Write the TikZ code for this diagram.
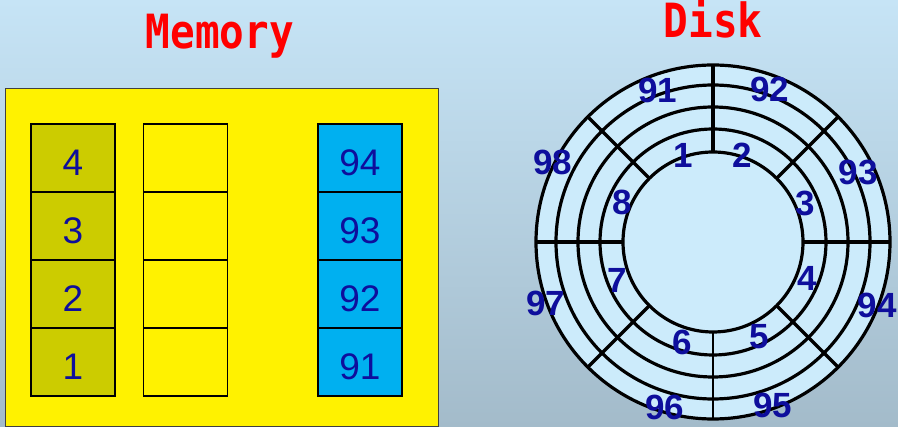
\documentclass[tikz,border=0pt]{standalone}
\usepackage{fontspec}
\setmainfont{Liberation Sans}
\newfontfamily\titlefont{DejaVu Sans Mono}
\usetikzlibrary{positioning,calc}
\definecolor{bgtop}{HTML}{C6E4F6}
\definecolor{bgbot}{HTML}{A3BBCA}
\definecolor{olive}{HTML}{CCCC00}
\definecolor{sky}{HTML}{00B0F0}
\definecolor{platter}{HTML}{CCEBFB}
\definecolor{digit}{HTML}{0E0E9C}
\definecolor{frame}{HTML}{404040}

\begin{document}
\begin{tikzpicture}[x=1pt,y=-1pt,
cell/.style={draw=black,line width=1.1pt,minimum width=84pt,minimum height=68pt,inner sep=0pt,outer sep=0pt,text height=35pt,text depth=0pt,font=\fontsize{37}{37}\selectfont,text=digit},
oldcell/.style={cell,fill=olive},
freecell/.style={cell,fill=yellow},
newcell/.style={cell,fill=sky},
title/.style={text=red,inner sep=0pt,anchor=base,font=\titlefont\bfseries\fontsize{41}{41}\selectfont},
ring/.style={line width=3.2pt},
sec/.style={text=digit,inner sep=0pt,font=\bfseries\fontsize{35}{35}\selectfont}
]
\useasboundingbox (0,0) rectangle (898,427);
\shade[top color=bgtop,bottom color=bgbot] (0,0) rectangle (898,427);

% memory
\node[title] (memtitle) at (220,49) {\scalebox{1}[1.15]{Memory}};
\node[draw=frame,fill=yellow,line width=0.8pt,minimum width=433pt,minimum height=338pt,anchor=north west,outer sep=0pt] (mem) at (5,88) {};

\node[oldcell] (m4) at (73,158) {4};
\node[oldcell,below=0pt of m4] (m3) {3};
\node[oldcell,below=0pt of m3] (m2) {2};
\node[oldcell,below=0pt of m2] (m1) {1};

\node[freecell] (f4) at (185.5,158) {};
\node[freecell,below=0pt of f4] (f3) {};
\node[freecell,below=0pt of f3] (f2) {};
\node[freecell,below=0pt of f2] (f1) {};

\node[newcell] (n94) at (360,158) {94};
\node[newcell,below=0pt of n94] (n93) {93};
\node[newcell,below=0pt of n93] (n92) {92};
\node[newcell,below=0pt of n92] (n91) {91};

% disk
\node[title] (disktitle) at (713,38) {\scalebox{1}[1.15]{Disk}};
\coordinate (c) at (713,242);
\fill[platter] (c) circle (177pt);
\foreach \r in {177,157,135,113,90}
  \draw[ring] (c) circle (\r pt);
\foreach \a in {0,45,90,135,180,225,315}
  \draw[ring] ($(c)+(\a:90pt)$) -- ($(c)+(\a:177pt)$);
\draw[line width=1.2pt] ($(c)+(270:90pt)$) -- ($(c)+(270:177pt)$);

\node[sec] (s1) at (683,155) {1};
\node[sec] (s2) at (742,155) {2};
\node[sec] (s3) at (805,203) {3};
\node[sec] (s4) at (807,278) {4};
\node[sec] (s5) at (759,337) {5};
\node[sec] (s6) at (682,342) {6};
\node[sec] (s7) at (617,280) {7};
\node[sec] (s8) at (622,202) {8};

\node[sec] (s91) at (658,90) {91};
\node[sec] (s92) at (770,89) {92};
\node[sec] (s93) at (858,172) {93};
\node[sec] (s94) at (877,305) {94};
\node[sec] (s95) at (773,405) {95};
\node[sec] (s96) at (665,407) {96};
\node[sec] (s97) at (546,303) {97};
\node[sec] (s98) at (553,162) {98};
\end{tikzpicture}
\end{document}
